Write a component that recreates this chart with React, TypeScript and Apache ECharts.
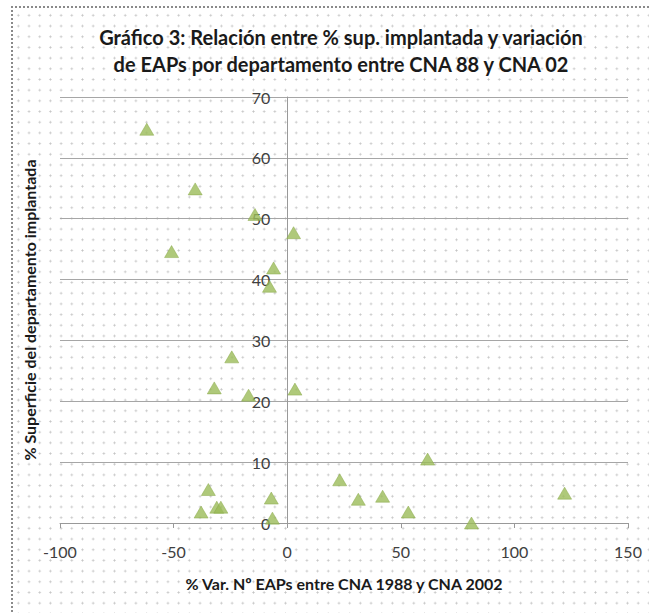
import React, { useEffect, useRef } from "react";
import * as echarts from "echarts";

const titleLines = [
  "Gráfico 3: Relación entre % sup. implantada y variación",
  "de EAPs por departamento entre CNA 88 y CNA 02",
];
const xAxisName = "% Var. Nº EAPs entre CNA 1988 y CNA 2002";
const yAxisName = "% Superficie del departamento implantada";

const varEAPs = [
  -61.8, -40.5, -50.9, -14.2, 2.8, -6.0, -7.8, -24.4, -32.1, -17.0, 3.4, -34.7,
  -37.9, -31.0, -29.2, -7.0, -6.5, 23.1, 31.3, 42.0, 53.3, 61.8, 81.1, 122.1,
];
const supImplantada = [
  64.7, 54.9, 44.6, 50.7, 47.7, 41.9, 38.9, 27.3, 22.2, 21.0, 22.0, 5.5, 1.8,
  2.6, 2.6, 4.1, 0.8, 7.1, 3.9, 4.4, 1.8, 10.5, 0.0, 4.9,
];

const FONT = "Lato";
const GRID_LEFT = 60;
const GRID_RIGHT = 21;
const CHART_W = 649;

export default function App() {
  const ref = useRef<HTMLDivElement>(null);
  useEffect(() => {
    document.body.style.margin = "0";
    const chart = echarts.init(ref.current!, undefined, { renderer: "svg" });
    const data = varEAPs.map((x, i) => [x, supImplantada[i]]);
    // pixel of x = 0 so the y axis sits where the x scale crosses zero
    const plotW = CHART_W - GRID_LEFT - GRID_RIGHT;
    const zeroPx = GRID_LEFT + (plotW * (0 - -100)) / (150 - -100);
    chart.setOption({
      animation: false,
      backgroundColor: "transparent",
      title: {
        text: titleLines.join("\n"),
        left: 336,
        top: 18,
        textAlign: "center",
        textStyle: {
          fontFamily: FONT,
          fontWeight: "bold",
          fontSize: 20,
          lineHeight: 27,
          color: "#1a1a1a",
        },
      },
      grid: {
        left: GRID_LEFT,
        right: GRID_RIGHT,
        top: 97,
        bottom: 90,
        containLabel: false,
        outerBoundsMode: "none",
      },
      xAxis: {
        type: "value",
        min: -100,
        max: 150,
        interval: 50,
        name: xAxisName,
        nameLocation: "middle",
        nameGap: 52,
        nameTextStyle: {
          fontFamily: FONT,
          fontWeight: "bold",
          fontSize: 16,
          color: "#1a1a1a",
        },
        axisLine: { show: true, onZero: true, lineStyle: { color: "#999", width: 1 } },
        axisTick: { show: true, length: 5, lineStyle: { color: "#999" } },
        axisLabel: {
          margin: 20,
          fontFamily: FONT,
          fontSize: 16,
          color: "#404040",
        },
        splitLine: { show: false },
      },
      yAxis: {
        type: "value",
        position: "left",
        offset: -(zeroPx - GRID_LEFT),
        min: 0,
        max: 70,
        interval: 10,
        name: yAxisName,
        nameLocation: "middle",
        nameRotate: 90,
        nameGap: zeroPx - 37,
        nameTextStyle: {
          fontFamily: FONT,
          fontWeight: "bold",
          fontSize: 16,
          color: "#1a1a1a",
        },
        axisLine: { show: true, onZero: false, lineStyle: { color: "#999", width: 1 } },
        axisTick: { show: false },
        axisLabel: {
          margin: 17,
          fontFamily: FONT,
          fontSize: 16,
          color: "#404040",
        },
        splitLine: { show: true, lineStyle: { color: "#a6a6a6", width: 1 } },
      },
      series: [
        {
          type: "scatter",
          data,
          symbol: "triangle",
          symbolSize: [14, 12],
          itemStyle: { color: "#9bbb59", borderColor: "#88a848", borderWidth: 0.6 },
        },
      ],
    });
    return () => chart.dispose();
  }, []);
  return (
    <div
      style={{
        position: "fixed",
        left: 0,
        top: 0,
        width: 649,
        height: 613,
        overflow: "hidden",
        background: "#fff",
      }}
    >
      <div
        style={{
          position: "absolute",
          left: 11,
          top: 6,
          width: 700,
          height: 700,
          borderLeft: "2px dotted #8a8a8a",
          borderTop: "2px dotted #8a8a8a",
          backgroundImage:
            "radial-gradient(circle, #c4c4c4 0.8px, rgba(255,255,255,0) 1.3px)",
          backgroundSize: "10.7px 10.7px",
          backgroundPosition: "0px 2px",
        }}
      />
      <div
        ref={ref}
        style={{ position: "absolute", left: 0, top: 0, width: 649, height: 613 }}
      />
    </div>
  );
}
